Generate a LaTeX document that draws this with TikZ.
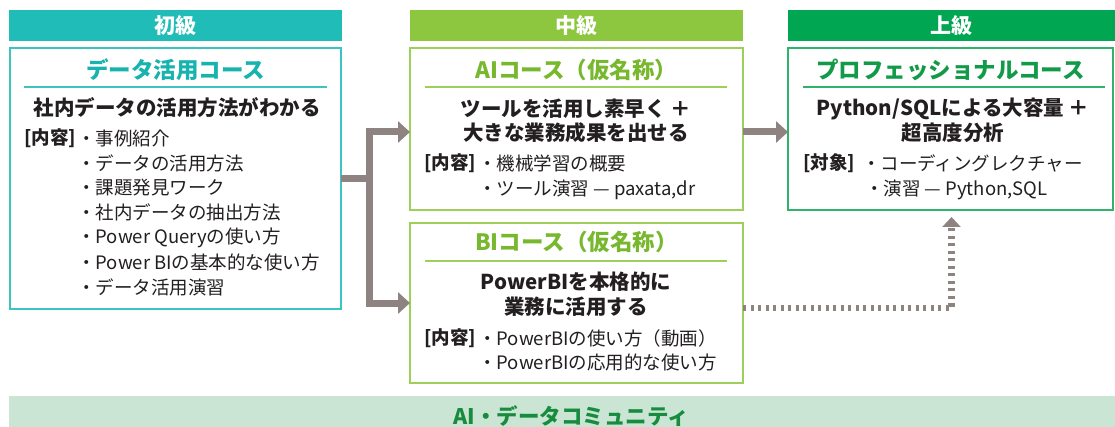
\documentclass[tikz,border=0pt]{standalone}
\usepackage{fontspec}
\setmainfont{Noto Sans CJK JP}
\usetikzlibrary{arrows.meta,calc}
\definecolor{cTeal}{HTML}{20BCB8}
\definecolor{cTealB}{HTML}{3EC4C0}
\definecolor{cTealT}{HTML}{17B3AE}
\definecolor{cLime}{HTML}{8DC63F}
\definecolor{cLimeB}{HTML}{9CD05A}
\definecolor{cLimeT}{HTML}{78B82E}
\definecolor{cGreen}{HTML}{00A651}
\definecolor{cGreenB}{HTML}{2DB36A}
\definecolor{cGreenT}{HTML}{119B48}
\definecolor{cArrow}{HTML}{8E8380}
\definecolor{cComm}{HTML}{CBE5D4}
\definecolor{cCommT}{HTML}{178C3E}
\definecolor{cText}{HTML}{231F20}
\newcommand\setfs[1]{\fontsize{#1}{#1}\selectfont}
\begin{document}
\begin{tikzpicture}[x=1pt,y=-1pt,
  hdr/.style={fill=#1, text=white, font=\setfs{21}\bfseries, minimum height=31, anchor=north west, inner sep=0, outer sep=0},
  box/.style={draw=#1, line width=1.5pt, fill=white, anchor=north west, inner sep=0, outer sep=0},
  ttl/.style={text=#1, font=\setfs{22.5}\bfseries, inner sep=0},
  sepl/.style={draw=#1, line width=1.5pt},
  lead/.style={text=cText, font=\setfs{20.5}\bfseries, inner sep=0},
  tag/.style={text=cText, font=\setfs{18.5}\bfseries, anchor=west, inner sep=0},
  item/.style={text=cText, font=\setfs{18.5}, anchor=west, inner sep=0},
  conn/.style={draw=cArrow, line width=7pt, -{Triangle[length=12pt,width=21pt]}},
  dotconn/.style={draw=cArrow, line width=6.5pt, dash pattern=on 3pt off 4.5pt, -{Triangle[length=10pt,width=18pt]}}
]
\useasboundingbox (0,0) rectangle (1115,427);
% level headers
\node[hdr=cTeal, minimum width=333] (h1) at (9,10) {初級};
\node[hdr=cLime, minimum width=333] (h2) at (410,10) {中級};
\node[hdr=cGreen, minimum width=327] (h3) at (788,10) {上級};
% boxes
\node[box=cTealB, minimum width=331, minimum height=261] (beg) at (10,48) {};
\node[box=cLimeB, minimum width=333, minimum height=162] (ai) at (410,48) {};
\node[box=cLimeB, minimum width=333, minimum height=160] (bi) at (410,223) {};
\node[box=cGreenB, minimum width=325, minimum height=162] (pro) at (788,48) {};
% beginner box content
\node[ttl=cTealT] (t1) at (175.5,70) {データ活用コース};
\draw[sepl=cTealB] (24,87) -- (327,87);
\node[lead] (l1) at (177,108) {社内データの活用方法がわかる};
\node[tag] (g1) at (24,138) {[内容]};
\node[item] (i11) at (77,138) {・事例紹介};
\node[item] (i12) at (77,163) {・データの活用方法};
\node[item] (i13) at (77,187.5) {・課題発見ワーク};
\node[item] (i14) at (77,212.5) {・社内データの抽出方法};
\node[item] (i15) at (77,237.5) {・Power Queryの使い方};
\node[item] (i16) at (77,262) {・Power BIの基本的な使い方};
\node[item] (i17) at (77,287) {・データ活用演習};
% AI box content
\node[ttl=cLimeT] (t2) at (576.5,70) {AIコース（仮名称）};
\draw[sepl=cLimeB] (425,87) -- (727,87);
\node[lead] (l21) at (576,108.5) {ツールを活用し素早く ＋};
\node[lead] (l22) at (576,133) {大きな業務成果を出せる};
\node[tag] (g2) at (424,163) {[内容]};
\node[item] (i21) at (478,163) {・機械学習の概要};
\node[item] (i22) at (478,190) {・ツール演習 — paxata,dr};
% BI box content
\node[ttl=cLimeT] (t3) at (576.5,242) {BIコース（仮名称）};
\draw[sepl=cLimeB] (425,261) -- (727,261);
\node[lead] (l31) at (576,282) {PowerBIを本格的に};
\node[lead] (l32) at (576,307) {業務に活用する};
\node[tag] (g3) at (424,338) {[内容]};
\node[item] (i31) at (478,338) {・PowerBIの使い方（動画）};
\node[item] (i32) at (478,362) {・PowerBIの応用的な使い方};
% professional box content
\node[ttl=cGreenT] (t4) at (950.5,70) {プロフェッショナルコース};
\draw[sepl=cGreenB] (803,87) -- (1105,87);
\node[lead] (l41) at (953,108.5) {Python/SQLによる大容量 ＋};
\node[lead] (l42) at (953,133) {超高度分析};
\node[tag] (g4) at (803,163) {[対象]};
\node[item] (i41) at (862,163) {・コーディングレクチャー};
\node[item] (i42) at (865,190) {・演習 — Python,SQL};
% community bar
\node[fill=cComm, minimum width=1106, minimum height=40, anchor=north west, inner sep=0, outer sep=0] (comm) at (9,396) {};
\node[text=cCommT, font=\setfs{21.5}\bfseries, inner sep=0] (commt) at (571,416) {AI・データコミュニティ};
% connectors
\draw[conn] (beg.east) -- ++(28,0) |- ($(ai.west)+(0,3)$);
\draw[conn] (beg.east) -- ++(28,0) |- (bi.west);
\draw[conn] ($(ai.east)+(0,3)$) -- ($(pro.west)+(0,3)$);
\draw[dotconn] ($(bi.east)+(0,5)$) -| ($(pro.south)+(1,7)$);
\end{tikzpicture}
\end{document}
